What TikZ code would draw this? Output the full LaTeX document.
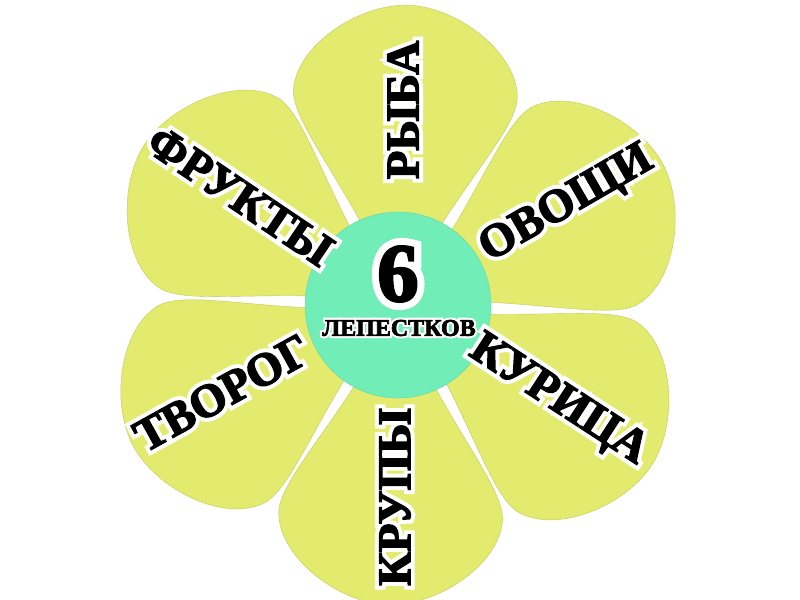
\documentclass[tikz,border=0pt]{standalone}
\usepackage{fontspec}
\setmainfont{Liberation Serif}
\newfontfamily\heavyfont{Liberation Serif Bold}[FakeBold=3]
\newfontfamily\halofont{Liberation Serif Bold}[FakeBold=20]
\usepackage{xcolor}
\usepackage{tikz}

\definecolor{petalfill}{HTML}{E3EB6E}
\definecolor{centerfill}{HTML}{71EDB8}

\newcommand{\haloed}[1]{\leavevmode\rlap{\color{white}\halofont #1}#1}

\begin{document}
\begin{tikzpicture}[x=0.75pt,y=0.75pt,yscale=-1,xscale=1,
  petal/.pic={\path [fill=petalfill,draw=petalfill!85!black,line width=0.3pt] (8,0) .. controls (120,55) and (175,110) .. (210,112) .. controls (255,112) and (300,50) .. (300,0) .. controls (300,-50) and (255,-112) .. (210,-112) .. controls (175,-110) and (120,-55) .. (8,0) -- cycle ;},
  lbl/.style={inner sep=0.75pt,font=\heavyfont\fontsize{35}{35}\selectfont}]
\useasboundingbox (0,0) rectangle (800,600);

%Shape: Petals
\pic [rotate=88] at (398,305) {petal};
\pic [rotate=28] at (398,305) {petal};
\pic [rotate=-32] at (398,305) {petal};
\pic [rotate=-92] at (398,305) {petal};
\pic [rotate=-152] at (398,305) {petal};
\pic [rotate=148] at (398,305) {petal};

%Shape: Circle
\draw [fill=centerfill,draw=centerfill!90!black,line width=0.3pt] (398,305) circle [radius=93] ;

% Text Node
\node (lblfish) at (403,110) [lbl,rotate=90] {\haloed{РЫБА}};
% Text Node
\node (lblveg) at (567,205) [lbl,rotate=30] {\haloed{ОВОЩИ}};
% Text Node
\node (lblchicken) at (558,401) [lbl,rotate=-33] {\haloed{КУРИЦА}};
% Text Node
\node (lblgrain) at (395,497) [lbl,rotate=90] {\haloed{КРУПЫ}};
% Text Node
\node (lblcurd) at (222,393) [lbl,rotate=29] {\haloed{ТВОРОГ}};
% Text Node
\node (lblfruit) at (240,196) [lbl,rotate=-34] {\haloed{ФРУКТЫ}};
% Text Node
\node (num) at (398,274) [lbl,font=\heavyfont\fontsize{62}{62}\selectfont] {\haloed{6}};
% Text Node
\node (petalsword) at (399,328) [lbl,font=\heavyfont\fontsize{18}{18}\selectfont] {\haloed{ЛЕПЕСТКОВ}};
\end{tikzpicture}
\end{document}
